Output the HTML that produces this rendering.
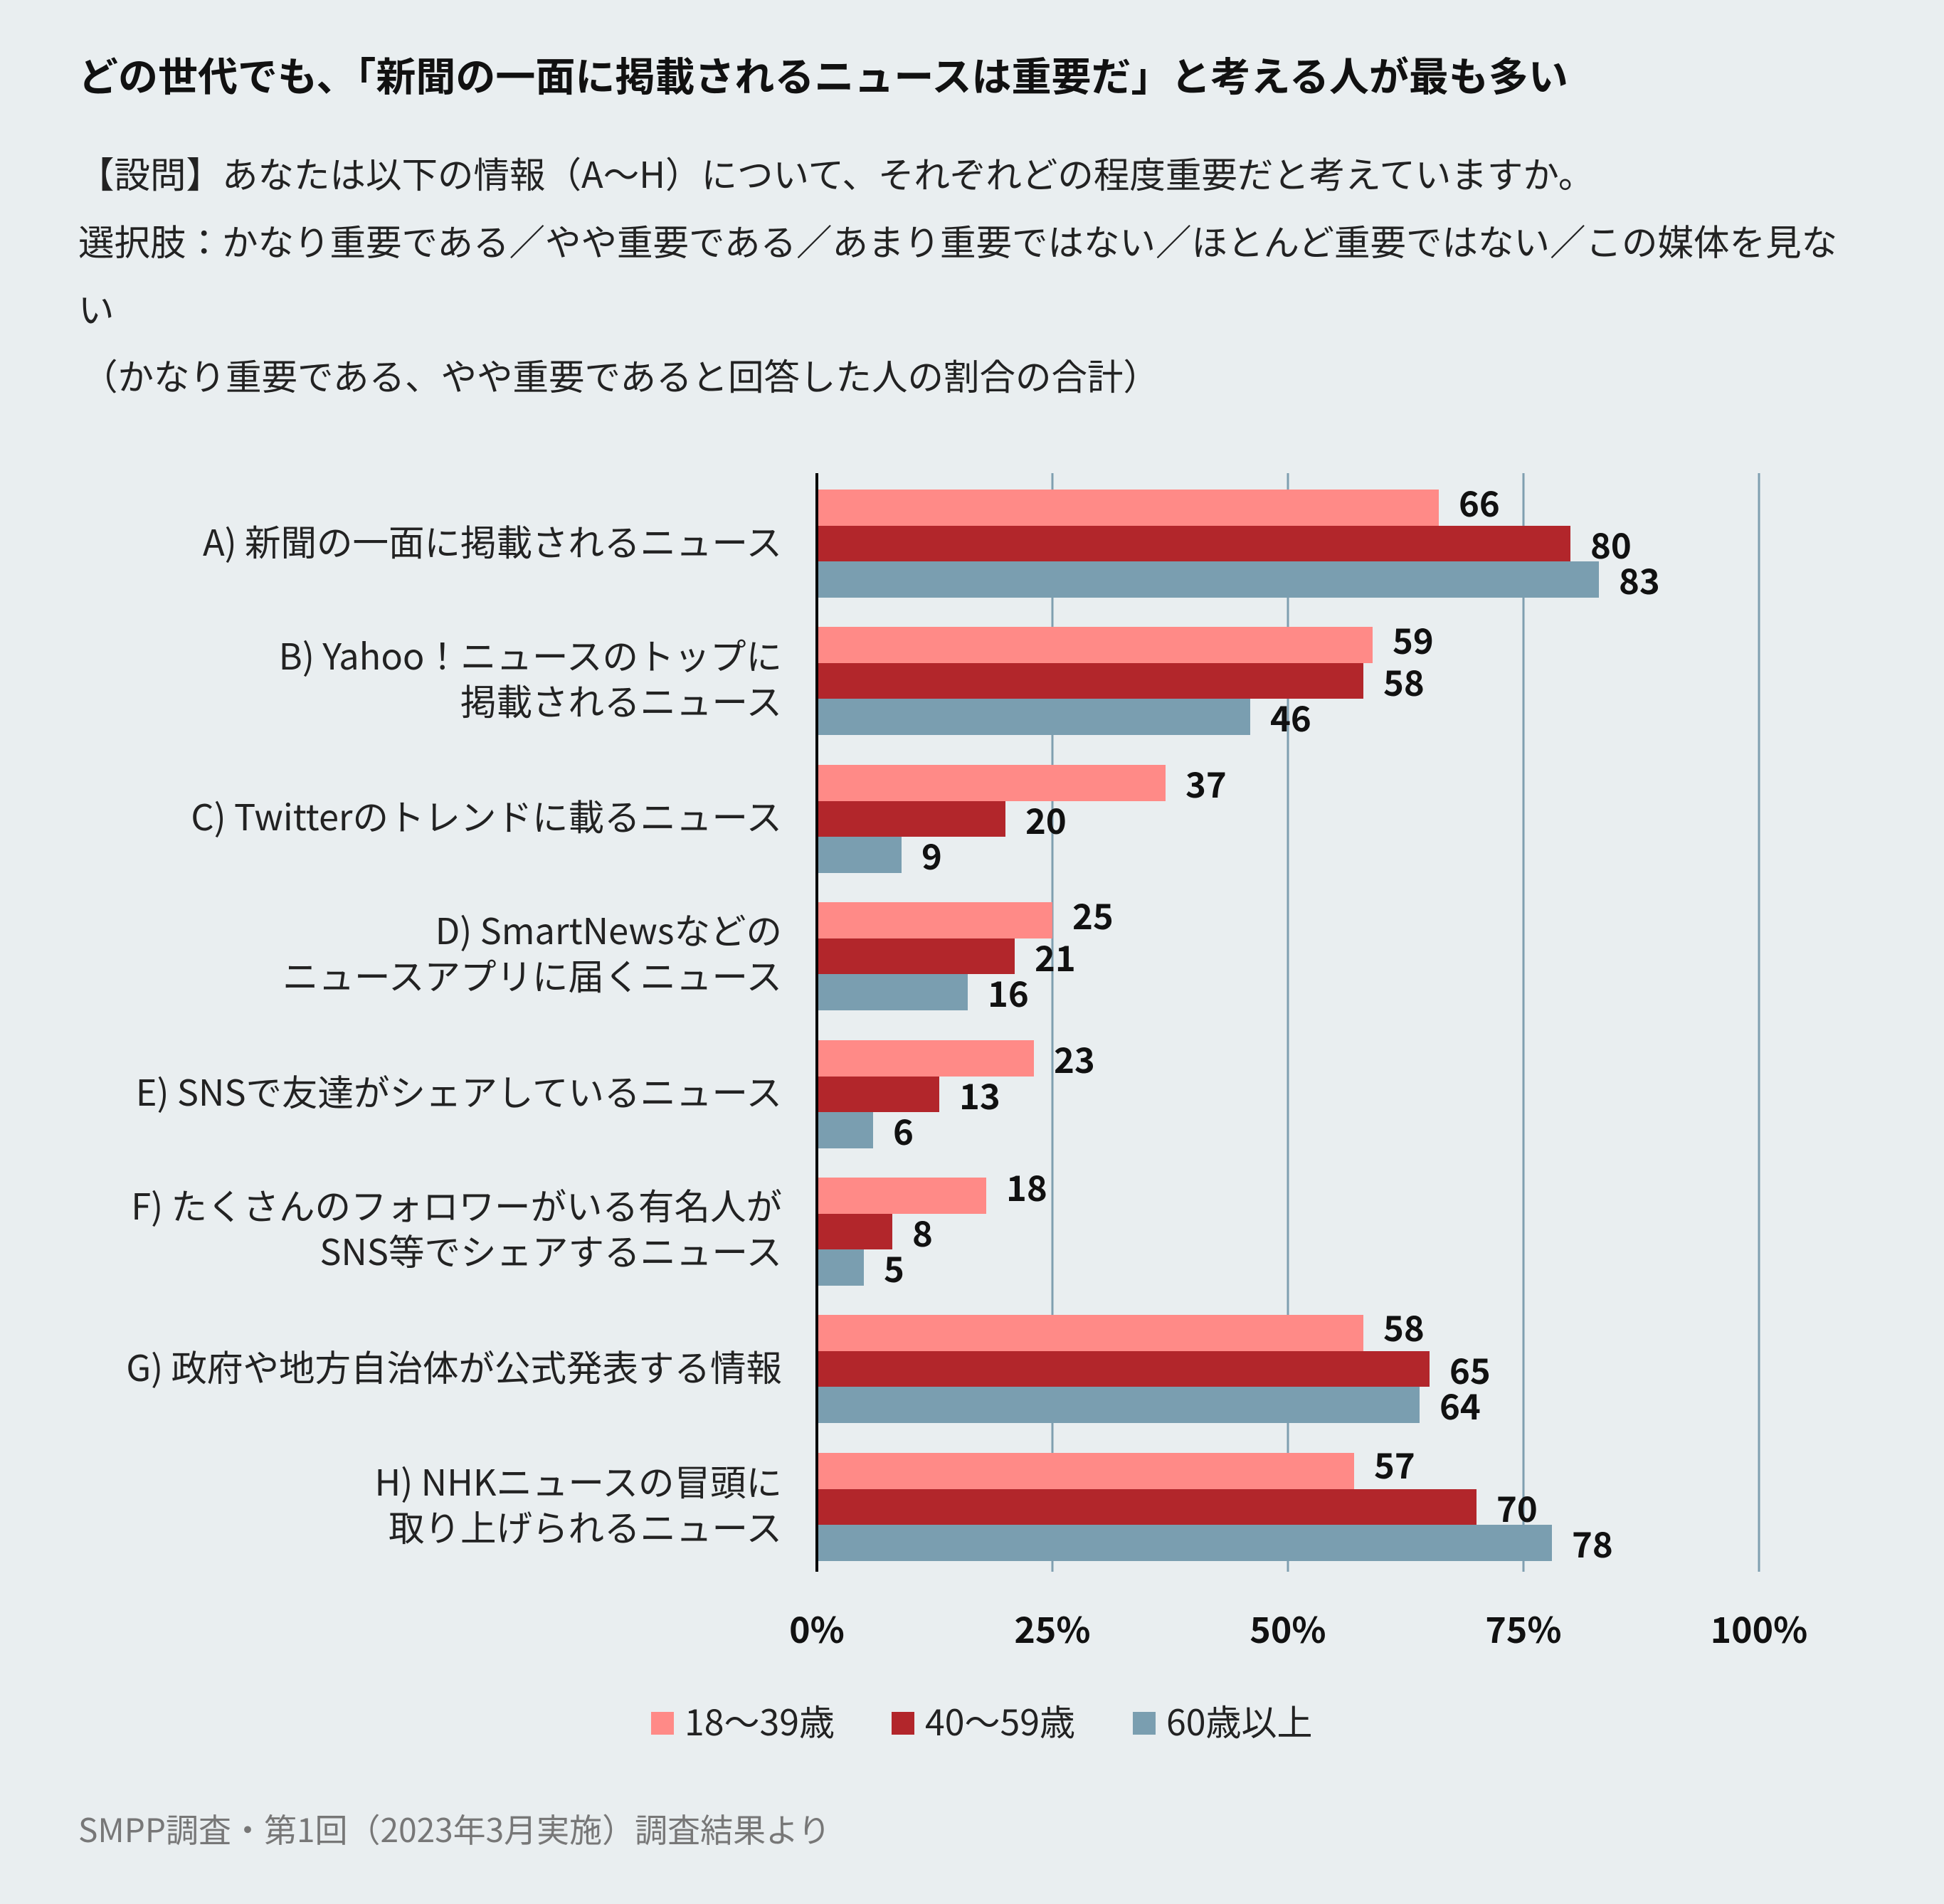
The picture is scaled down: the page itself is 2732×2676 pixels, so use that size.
<!DOCTYPE html>
<html><head><meta charset="utf-8"><style>
html,body{margin:0;padding:0;background:#e9eef0;}
svg{display:block;}
text{font-family:"Noto Sans CJK JP","Liberation Sans",sans-serif;}
</style></head><body>
<svg width="2732" height="2676" viewBox="0 0 2732 2676" xmlns="http://www.w3.org/2000/svg">
<rect width="2732" height="2676" fill="#e9eef0"/>
<text x="110" y="128" font-size="56" font-weight="bold" fill="#111">どの世代でも、「新聞の一面に掲載されるニュースは重要だ」と考える人が最も多い</text>
<g font-size="50.5" fill="#222">
<text x="110" y="264">【設問】あなたは以下の情報（A〜H）について、それぞれどの程度重要だと考えていますか。</text>
<text x="110" y="359">選択肢：かなり重要である／やや重要である／あまり重要ではない／ほとんど重要ではない／この媒体を見な</text>
<text x="110" y="454">い</text>
<text x="115" y="548">（かなり重要である、やや重要であると回答した人の割合の合計）</text>
</g>
<g stroke="#7f9fb0" stroke-width="3">
<line x1="1479" y1="665" x2="1479" y2="2209"/>
<line x1="1810" y1="665" x2="1810" y2="2209"/>
<line x1="2141" y1="665" x2="2141" y2="2209"/>
<line x1="2472" y1="665" x2="2472" y2="2209"/>
</g>
<g>
<rect x="1148" y="688" width="874" height="51" fill="#ff8a87"/><rect x="1148" y="739" width="1059" height="50" fill="#b2262b"/><rect x="1148" y="789" width="1099" height="51" fill="#7a9eb0"/>
<rect x="1148" y="881" width="781" height="51" fill="#ff8a87"/><rect x="1148" y="932" width="768" height="50" fill="#b2262b"/><rect x="1148" y="982" width="609" height="51" fill="#7a9eb0"/>
<rect x="1148" y="1075" width="490" height="51" fill="#ff8a87"/><rect x="1148" y="1126" width="265" height="50" fill="#b2262b"/><rect x="1148" y="1176" width="119" height="51" fill="#7a9eb0"/>
<rect x="1148" y="1268" width="331" height="51" fill="#ff8a87"/><rect x="1148" y="1319" width="278" height="50" fill="#b2262b"/><rect x="1148" y="1369" width="212" height="51" fill="#7a9eb0"/>
<rect x="1148" y="1462" width="305" height="51" fill="#ff8a87"/><rect x="1148" y="1513" width="172" height="50" fill="#b2262b"/><rect x="1148" y="1563" width="79" height="51" fill="#7a9eb0"/>
<rect x="1148" y="1655" width="238" height="51" fill="#ff8a87"/><rect x="1148" y="1706" width="106" height="50" fill="#b2262b"/><rect x="1148" y="1756" width="66" height="51" fill="#7a9eb0"/>
<rect x="1148" y="1848" width="768" height="51" fill="#ff8a87"/><rect x="1148" y="1899" width="861" height="50" fill="#b2262b"/><rect x="1148" y="1949" width="847" height="51" fill="#7a9eb0"/>
<rect x="1148" y="2042" width="755" height="51" fill="#ff8a87"/><rect x="1148" y="2093" width="927" height="50" fill="#b2262b"/><rect x="1148" y="2143" width="1033" height="51" fill="#7a9eb0"/>
</g>
<line x1="1148" y1="665" x2="1148" y2="2209" stroke="#000" stroke-width="4"/>
<g font-size="49" font-weight="bold" fill="#111">
<text x="2050" y="726">66</text><text x="2235" y="785">80</text><text x="2275" y="835">83</text>
<text x="1957" y="919">59</text><text x="1944" y="978">58</text><text x="1785" y="1028">46</text>
<text x="1666" y="1121">37</text><text x="1441" y="1172">20</text><text x="1295" y="1222">9</text>
<text x="1507" y="1306">25</text><text x="1454" y="1365">21</text><text x="1388" y="1415">16</text>
<text x="1481" y="1508">23</text><text x="1348" y="1559">13</text><text x="1255" y="1609">6</text>
<text x="1414" y="1688">18</text><text x="1282" y="1752">8</text><text x="1242" y="1802">5</text>
<text x="1944" y="1885">58</text><text x="2037" y="1945">65</text><text x="2023" y="1995">64</text>
<text x="1931" y="2078">57</text><text x="2103" y="2139">70</text><text x="2209" y="2189">78</text>
</g>
<g font-size="50.5" fill="#222" text-anchor="end">
<text x="1099" y="781">A) 新聞の一面に掲載されるニュース</text>
<text x="1099" y="941">B) Yahoo！ニュースのトップに</text>
<text x="1099" y="1005">掲載されるニュース</text>
<text x="1099" y="1167">C) Twitterのトレンドに載るニュース</text>
<text x="1099" y="1327">D) SmartNewsなどの</text>
<text x="1099" y="1391">ニュースアプリに届くニュース</text>
<text x="1099" y="1554">E) SNSで友達がシェアしているニュース</text>
<text x="1099" y="1714">F) たくさんのフォロワーがいる有名人が</text>
<text x="1099" y="1778">SNS等でシェアするニュース</text>
<text x="1099" y="1941">G) 政府や地方自治体が公式発表する情報</text>
<text x="1099" y="2102">H) NHKニュースの冒頭に</text>
<text x="1099" y="2166">取り上げられるニュース</text>
</g>
<g font-size="50" font-weight="bold" fill="#111" text-anchor="middle">
<text x="1148" y="2309">0%</text><text x="1479" y="2309">25%</text><text x="1810" y="2309">50%</text><text x="2141" y="2309">75%</text><text x="2472" y="2309">100%</text>
</g>
<rect x="915" y="2406" width="32" height="32" fill="#ff8a87"/>
<rect x="1253" y="2406" width="32" height="32" fill="#b2262b"/>
<rect x="1592" y="2406" width="32" height="32" fill="#7a9eb0"/>
<g font-size="50" fill="#222">
<text x="962" y="2439">18〜39歳</text>
<text x="1300" y="2439">40〜59歳</text>
<text x="1639" y="2439">60歳以上</text>
</g>
<text x="110" y="2589" font-size="46" fill="#777">SMPP調査・第1回（2023年3月実施）調査結果より</text>
</svg>
</body></html>
